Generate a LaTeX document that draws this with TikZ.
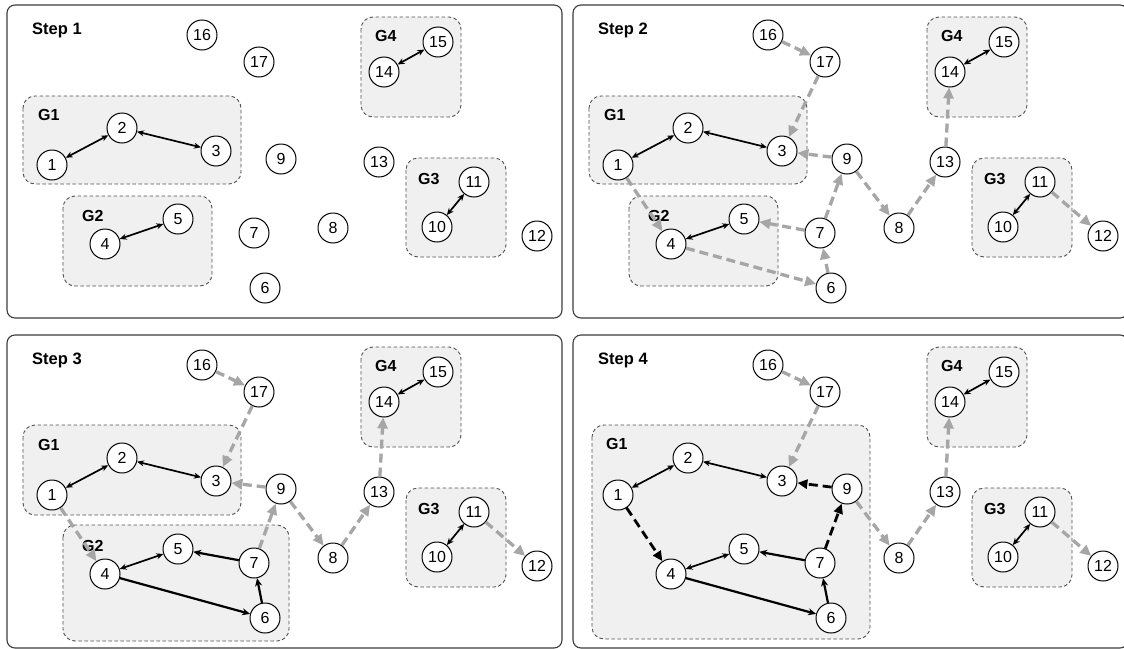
\documentclass[tikz,border=0pt]{standalone}
\usepackage{fontspec}
\setmainfont{Liberation Sans}
\usetikzlibrary{arrows.meta}
\definecolor{arrgray}{RGB}{166,166,166}
\definecolor{grpfill}{RGB}{240,240,240}
\definecolor{grpline}{RGB}{80,80,80}
\definecolor{panelline}{RGB}{60,60,60}
\tikzset{
 vtx/.style={circle, draw=black, line width=1pt, fill=white, minimum size=30pt, inner sep=0pt, font=\fontsize{16}{16}\selectfont},
 grp/.style={draw=grpline, dash pattern=on 3.5pt off 2.5pt, line width=0.9pt, fill=grpfill, rounded corners=12pt},
 panelbox/.style={draw=panelline, line width=1.1pt, rounded corners=8pt},
 steplabel/.style={anchor=base west, inner sep=0pt, font=\bfseries\fontsize{16.5}{16.5}\selectfont},
 grplabel/.style={anchor=base west, inner sep=0pt, font=\bfseries\fontsize{16}{16}\selectfont},
 dbl/.style={line width=1.7pt, {Stealth[length=7pt,width=6pt]}-{Stealth[length=7pt,width=6pt]}},
 grayarr/.style={draw=arrgray, line width=3.3pt, dash pattern=on 9pt off 5pt, -{Triangle[length=11pt,width=10pt]}},
 blkarr/.style={line width=2.2pt, -{Stealth[length=8pt,width=7pt]}},
 blkdash/.style={line width=2.8pt, dash pattern=on 9pt off 5pt, -{Triangle[length=10pt,width=9pt]}},
}
\newcommand\mknodes[1]{%
 \node[vtx] (#1n1) at (52,165) {1};
 \node[vtx] (#1n2) at (122,128) {2};
 \node[vtx] (#1n3) at (216,151) {3};
 \node[vtx] (#1n4) at (105,244) {4};
 \node[vtx] (#1n5) at (178,219) {5};
 \node[vtx] (#1n6) at (265,288) {6};
 \node[vtx] (#1n7) at (254,233) {7};
 \node[vtx] (#1n8) at (333,228) {8};
 \node[vtx] (#1n9) at (281,159) {9};
 \node[vtx] (#1n10) at (437,227) {10};
 \node[vtx] (#1n11) at (474,182) {11};
 \node[vtx] (#1n12) at (537,236) {12};
 \node[vtx] (#1n13) at (379,162) {13};
 \node[vtx] (#1n14) at (384,72) {14};
 \node[vtx] (#1n15) at (438,42) {15};
 \node[vtx] (#1n16) at (202,35) {16};
 \node[vtx] (#1n17) at (259,62) {17};
}
\newcommand\mkpairs[1]{%
 \draw[dbl] (#1n1) -- (#1n2);
 \draw[dbl] (#1n2) -- (#1n3);
 \draw[dbl] (#1n4) -- (#1n5);
 \draw[dbl] (#1n10) -- (#1n11);
 \draw[dbl] (#1n14) -- (#1n15);
}
\newcommand\mkcommongray[1]{%
 \draw[grayarr] (#1n16) -- (#1n17);
 \draw[grayarr] (#1n17) -- (#1n3);
 \draw[grayarr] (#1n9) -- (#1n8);
 \draw[grayarr] (#1n8) -- (#1n13);
 \draw[grayarr] (#1n13) -- (#1n14);
 \draw[grayarr] (#1n11) -- (#1n12);
}
\newcommand\mkgthree{%
 \path[grp] (406,158) rectangle (506,257);
 \node[grplabel] (gl3) at (418,184) {G3};
 \path[grp] (361,17) rectangle (461,117);
 \node[grplabel] (gl4) at (375,41) {G4};
}
\begin{document}
\begin{tikzpicture}[x=1pt,y=-1pt]
\useasboundingbox (0,0) rectangle (1124,648);
\clip (0,0) rectangle (1124,648);
% ---------- Step 1
\begin{scope}
 \draw[panelbox] (7,5) rectangle (562,318);
 \node[steplabel] (s1) at (32,34) {Step 1};
 \path[grp] (23,96) rectangle (241,184);
 \node[grplabel] (a1) at (38,120) {G1};
 \path[grp] (63,196) rectangle (212,286);
 \node[grplabel] (a2) at (82,221) {G2};
 \mkgthree
 \mknodes{a}
 \mkpairs{a}
\end{scope}
% ---------- Step 2
\begin{scope}[shift={(566,0)}]
 \draw[panelbox] (7,5) rectangle (562,318);
 \node[steplabel] (s2) at (32,34) {Step 2};
 \path[grp] (23,96) rectangle (241,184);
 \node[grplabel] (b1) at (38,120) {G1};
 \path[grp] (63,196) rectangle (212,286);
 \node[grplabel] (b2) at (82,221) {G2};
 \mkgthree
 \mknodes{b}
 \mkpairs{b}
 \mkcommongray{b}
 \draw[grayarr] (bn9) -- (bn3);
 \draw[grayarr] (bn1) -- (bn4);
 \draw[grayarr] (bn4) -- (bn6);
 \draw[grayarr] (bn6) -- (bn7);
 \draw[grayarr] (bn7) -- (bn5);
 \draw[grayarr] (bn7) -- (bn9);
\end{scope}
% ---------- Step 3
\begin{scope}[shift={(0,330)}]
 \draw[panelbox] (7,5) rectangle (562,318);
 \node[steplabel] (s3) at (32,34) {Step 3};
 \path[grp] (23,95) rectangle (241,185);
 \node[grplabel] (c1) at (38,120) {G1};
 \path[grp] (63,195) rectangle (289,311);
 \node[grplabel] (c2) at (82,221) {G2};
 \mkgthree
 \mknodes{c}
 \mkpairs{c}
 \mkcommongray{c}
 \draw[grayarr] (cn9) -- (cn3);
 \draw[grayarr] (cn1) -- (cn4);
 \draw[grayarr] (cn7) -- (cn9);
 \draw[blkarr] (cn4) -- (cn6);
 \draw[blkarr] (cn6) -- (cn7);
 \draw[blkarr] (cn7) -- (cn5);
\end{scope}
% ---------- Step 4
\begin{scope}[shift={(566,330)}]
 \draw[panelbox] (7,5) rectangle (562,318);
 \node[steplabel] (s4) at (32,34) {Step 4};
 \path[grp] (26,95) rectangle (304,309);
 \node[grplabel] (d1) at (40,119) {G1};
 \mkgthree
 \mknodes{d}
 \mkpairs{d}
 \mkcommongray{d}
 \draw[blkdash] (dn9) -- (dn3);
 \draw[blkdash] (dn1) -- (dn4);
 \draw[blkdash] (dn7) -- (dn9);
 \draw[blkarr] (dn4) -- (dn6);
 \draw[blkarr] (dn6) -- (dn7);
 \draw[blkarr] (dn7) -- (dn5);
\end{scope}
\end{tikzpicture}
\end{document}
